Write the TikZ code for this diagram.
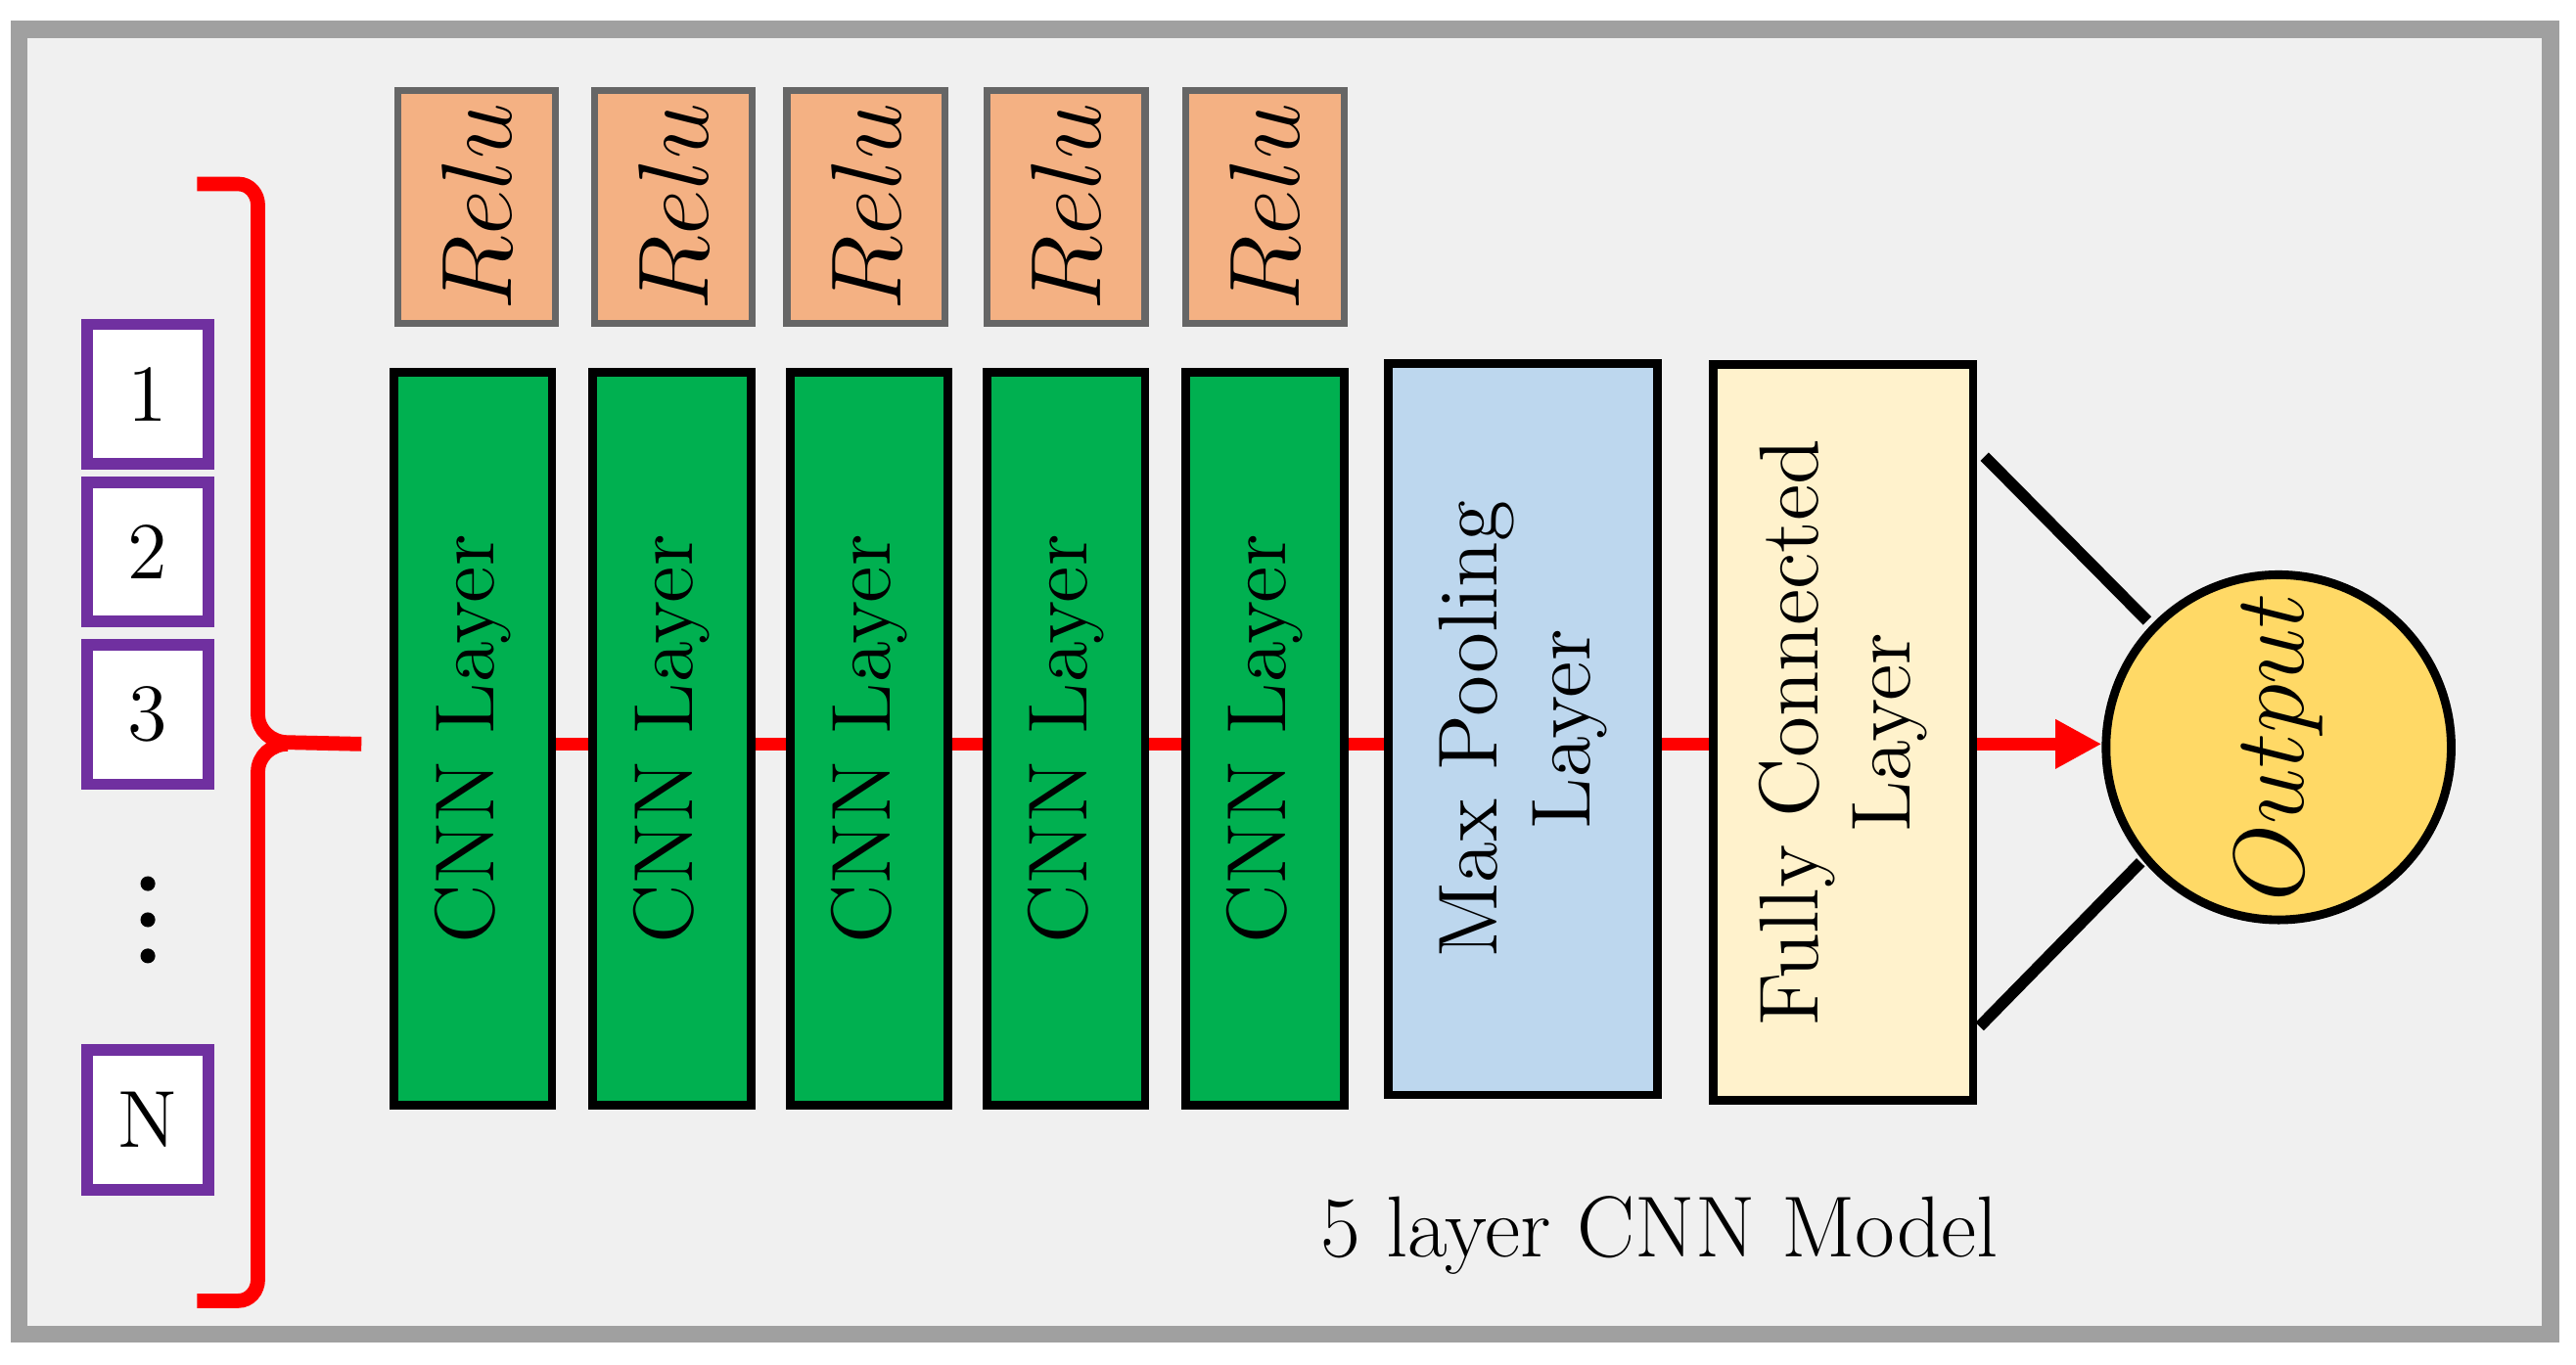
\documentclass[tikz,border=0pt]{standalone}
\usetikzlibrary{arrows.meta}
\begin{document}
\begin{tikzpicture}[x=0.01cm,y=-0.01cm,
  relu/.style={draw=gray!80!black,line width=1.2pt,fill={rgb,255:red,244;green,177;blue,131},minimum width=0.96cm,minimum height=1.42cm,inner sep=0pt},
  cnn/.style={draw=black,line width=1.5pt,fill={rgb,255:red,0;green,176;blue,80},minimum width=0.96cm,minimum height=4.46cm,inner sep=0pt},
  num/.style={draw={rgb,255:red,112;green,48;blue,160},line width=2pt,fill=white,minimum width=0.74cm,minimum height=0.85cm,inner sep=0pt,font=\fontsize{14}{16}\selectfont},
  vt/.style={rotate=90,font=\fontsize{14.5}{16}\selectfont,align=center},
  red line/.style={draw=red,line width=2.2pt}]
\useasboundingbox (0,0) rectangle (1568,831);
\fill[white] (0,0) rectangle (1568,831);
\node[draw={rgb,255:red,160;green,160;blue,160},line width=3pt,fill={rgb,255:red,240;green,240;blue,240},minimum width=15.4cm,minimum height=7.94cm,inner sep=0pt] (frame) at (782,415) {};
% red chain line
\coordinate (bt) at (220,453);
\draw[red line] (288,453) -- (1200,453);
% CNN + relu
\foreach \i/\x/\rx in {1/288/290,2/409/410,3/529/527,4/649/649,5/770/770}{
  \node[relu] (r\i) at (\rx,126) {};
  \node[vt,font=\fontsize{16}{16}\selectfont] at (\rx,126) {$Relu$};
  \node[cnn] (c\i) at (\x,450) {};
  \node[vt] at (\x,450) {CNN Layer};
}
\node[draw=black,line width=1.5pt,fill={rgb,255:red,189;green,215;blue,238},minimum width=1.64cm,minimum height=4.45cm,inner sep=0pt] (mp) at (927,444) {};
\node[vt,text width=4.3cm] at (927,444) {Max Pooling\\Layer};
\node[draw=black,line width=1.5pt,fill={rgb,255:red,255;green,242;blue,204},minimum width=1.58cm,minimum height=4.48cm,inner sep=0pt] (fc) at (1122,446) {};
\node[vt,text width=4.3cm] at (1122,446) {Fully Connected\\Layer};
\node[draw=black,line width=1.5pt,fill={rgb,255:red,255;green,217;blue,102},circle,minimum size=2.1cm,inner sep=0pt] (out) at (1387,455) {};
\node[vt,font=\fontsize{16}{16}\selectfont] at (1387,455) {$Output$};
\draw[red line,-{Triangle[length=8pt,width=8pt]}] (fc.east|-0,453) -- (out.west|-0,453);
\coordinate (l1) at (1208,278); \coordinate (l2) at (1205,625);
\draw[line width=2pt] (l1) -- (1307,378);
\draw[line width=2pt] (l2) -- (1303,525);
% numbers
\node[num] (n1) at (90,240) {1};
\node[num] (n2) at (90,336) {2};
\node[num] (n3) at (90,435) {3};
\foreach \y in {538,560,582} \fill (90,\y) circle (0.045cm);
\node[num] (nN) at (90,682) {N};
% brace
\draw[red,line width=2.5pt] (120,112) -- (145,112) to[out=0,in=90] (157,125) -- (157,435) to[out=-90,in=180] (175,452) -- (bt);
\draw[red,line width=2.5pt] (120,792) -- (145,792) to[out=0,in=-90] (157,779) -- (157,470) to[out=90,in=180] (175,453);
\node[font=\fontsize{15}{16}\selectfont] (title) at (1010,752) {5 layer CNN Model};
\end{tikzpicture}
\end{document}
